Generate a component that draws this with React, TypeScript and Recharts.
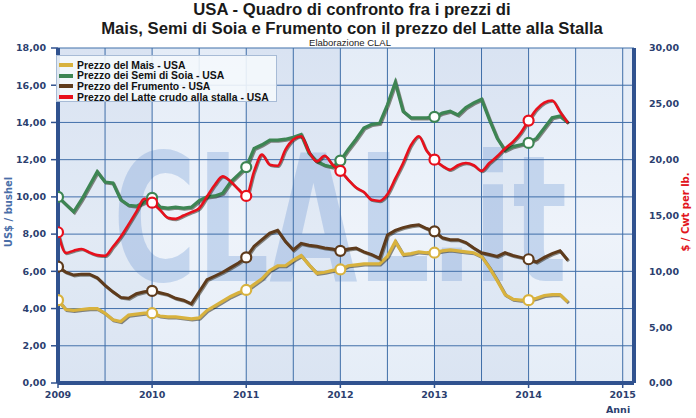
import React from 'react';
import { LineChart, Line, XAxis, YAxis, CartesianGrid, ReferenceLine, ReferenceArea } from 'recharts';

const startYear = 2009;
const yearTicks = [2009, 2010, 2011, 2012, 2013, 2014, 2015];
const halfYearLines = [2009.5, 2010, 2010.5, 2011, 2011.5, 2012, 2012.5, 2013, 2013.5, 2014, 2014.5, 2015];
const leftTicks = [0, 2, 4, 6, 8, 10, 12, 14, 16, 18];
const rightTicks = [0, 5, 10, 15, 20, 25, 30];
const bandYears = [2009, 2011, 2013];

// Monthly values, Jan 2009 - Jun 2014
const mais = [
  4.45, 3.95, 3.9, 3.95, 4.0, 4.0, 3.75, 3.4, 3.3, 3.65, 3.7, 3.75,
  3.75, 3.6, 3.55, 3.55, 3.5, 3.45, 3.5, 3.9, 4.15, 4.4, 4.65, 4.85,
  5.0, 5.3, 5.6, 6.05, 6.3, 6.3, 6.6, 6.85, 6.35, 5.9, 5.95, 6.05,
  6.1, 6.3, 6.35, 6.4, 6.4, 6.4, 6.8, 7.6, 6.9, 6.95, 7.05, 7.0,
  7.0, 7.1, 7.15, 7.1, 7.05, 7.0, 6.8, 6.2, 5.5, 4.75, 4.5, 4.45,
  4.45, 4.55, 4.7, 4.75, 4.75, 4.35,
];
const soia = [
  10.0, 9.6, 9.2, 9.85, 10.6, 11.35, 10.8, 10.75, 9.85, 9.55, 9.5, 9.7,
  9.95, 9.45, 9.4, 9.45, 9.4, 9.45, 9.8, 10.0, 10.05, 10.2, 10.8, 11.2,
  11.6, 12.6, 12.8, 13.05, 13.05, 13.1, 13.2, 13.35, 12.35, 11.9, 11.7, 11.6,
  11.95, 12.55, 13.1, 13.7, 13.9, 13.95, 14.95, 16.15, 14.6, 14.25, 14.25, 14.25,
  14.3, 14.5, 14.6, 14.4, 14.8, 15.05, 15.25, 14.15, 13.15, 12.5, 12.7, 12.8,
  12.9, 13.15, 13.7, 14.25, 14.35, 14.0,
];
const frumento = [
  6.25, 5.95, 5.8, 5.85, 5.85, 5.65, 5.25, 4.9, 4.6, 4.55, 4.8, 4.9,
  4.95, 4.85, 4.75, 4.55, 4.45, 4.25, 4.9, 5.55, 5.75, 5.95, 6.2, 6.45,
  6.75, 7.35, 7.7, 8.05, 8.2, 7.6, 7.15, 7.5, 7.4, 7.35, 7.25, 7.2,
  7.1, 7.2, 7.25, 7.05, 6.9, 6.7, 7.95, 8.2, 8.35, 8.45, 8.5, 8.3,
  8.15, 7.8, 7.7, 7.7, 7.55, 7.25, 7.0, 6.9, 6.8, 7.0, 6.85, 6.75,
  6.65, 6.5, 6.75, 6.95, 7.1, 6.6,
];
const latte = [
  13.5, 11.65, 11.85, 12.0, 11.7, 11.45, 11.4, 12.2, 13.1, 14.2, 15.35, 16.5,
  16.15, 15.5, 14.8, 14.7, 15.0, 15.3, 15.65, 16.7, 17.75, 18.5, 18.05, 17.35,
  16.75, 18.95, 20.45, 19.55, 19.45, 20.9, 21.8, 22.1, 20.7, 19.85, 20.35, 19.55,
  19.0, 18.2, 17.5, 17.1, 16.4, 16.3, 16.9, 18.3, 19.7, 21.3, 22.1, 20.8,
  20.0, 19.45, 19.1, 19.5, 19.7, 19.5, 19.0, 19.7, 20.3, 21.0, 21.6, 22.4,
  23.5, 24.5, 25.1, 25.3, 24.3, 23.3,
];

const seriesNames = [
  'Prezzo del Mais - USA',
  'Prezzo dei Semi di Soia - USA',
  'Prezzo del Frumento - USA',
  'Prezzo del Latte crudo alla stalla - USA',
];
const seriesKeys = ['mais', 'soia', 'frumento', 'latte'];
const seriesColors = ['#d8b23e', '#3d8553', '#5e3b1c', '#e8101c'];

const data = mais.map((v, i) => ({
  t: startYear + i / 12,
  mais: v,
  soia: soia[i],
  frumento: frumento[i],
  latte: latte[i],
}));

const AXIS = '#30528f';
const GRID = '#3f6ea8';
const TICK_COLOR = '#2c3f6f';
const tickStyle = { fill: TICK_COLOR, fontSize: 9.5, fontWeight: 'bold', fontFamily: '"DejaVu Sans", Verdana, sans-serif' };
const fmt = (v: number) => v.toFixed(2).replace('.', ',');

const makeDot = (color: string) => (props: any) => {
  const { cx, cy, index } = props;
  if (index % 12 !== 0 || cx == null || cy == null) return <g key={`d-${color}-${index}`} />;
  return (
    <circle key={`d-${color}-${index}`} cx={cx} cy={cy} r={5} fill="#ffffff" stroke={color} strokeWidth={2.2} />
  );
};

export default function App() {
  return (
    <div style={{ position: 'absolute', left: 0, top: 0, width: 696, height: 418, background: '#ffffff', overflow: 'hidden', fontFamily: '"Liberation Sans", Arial, sans-serif' }}>
      <style>{`.sh .recharts-line-curve{filter:drop-shadow(1.2px 1.4px 0.7px rgba(30,25,10,0.5));}`}</style>
      <div style={{ position: 'absolute', left: 58, top: 48, width: 576, height: 335, background: 'linear-gradient(180deg,#e4ecf7 0%,#eef3fa 55%,#e5edf7 100%)' }} />
      <svg style={{ position: 'absolute', left: 0, top: 0 }} width={696} height={418}>
        <text transform="translate(113,281) scale(1,1.55)" x={0} y={0} fontSize={114} fontWeight="bold" fontFamily='"DejaVu Sans", sans-serif' fill="#a3bee3" fillOpacity={0.55}>CLAL.it</text>
      </svg>
      <div style={{ position: 'absolute', left: 0, top: 0 }}>
        <LineChart width={696} height={418} data={data} margin={{ top: 48, right: 0, bottom: 0, left: 0 }}>
          {bandYears.map((y) => (
            <ReferenceArea key={`b${y}`} yAxisId="left" x1={y} x2={y + 1} y1={0} y2={18} fill="#6f93c8" fillOpacity={0.09} stroke="none" />
          ))}
          <CartesianGrid yAxisId="left" vertical={false} stroke={GRID} strokeWidth={1} />
          {halfYearLines.map((x) => (
            <ReferenceLine key={`v${x}`} yAxisId="left" x={x} stroke={GRID} strokeWidth={1} />
          ))}
          <XAxis
            dataKey="t"
            type="number"
            domain={[2009, 2015.12]}
            allowDataOverflow
            ticks={yearTicks}
            interval={0}
            height={35}
            axisLine={{ stroke: AXIS, strokeWidth: 4 }}
            tickLine={{ stroke: AXIS, strokeWidth: 1.5 }}
            tickSize={5}
            tickMargin={3}
            tick={tickStyle}
          />
          <YAxis
            yAxisId="left"
            domain={[0, 18]}
            ticks={leftTicks}
            interval={0}
            width={58}
            axisLine={{ stroke: AXIS, strokeWidth: 4 }}
            tickLine={{ stroke: AXIS, strokeWidth: 1.5 }}
            tickSize={7}
            tickMargin={5}
            tick={tickStyle}
            tickFormatter={fmt}
          />
          <YAxis
            yAxisId="right"
            orientation="right"
            domain={[0, 30]}
            ticks={rightTicks}
            interval={0}
            width={62}
            axisLine={{ stroke: AXIS, strokeWidth: 4 }}
            tickLine={false}
            tickMargin={9}
            tick={{ ...tickStyle, textAnchor: 'start' }}
            tickFormatter={fmt}
          />
          <Line className="sh" yAxisId="left" type="linear" dataKey="mais" stroke={seriesColors[0]} strokeWidth={3.2} dot={makeDot(seriesColors[0])} activeDot={false} isAnimationActive={false} />
          <Line className="sh" yAxisId="left" type="linear" dataKey="frumento" stroke={seriesColors[2]} strokeWidth={3} dot={makeDot(seriesColors[2])} activeDot={false} isAnimationActive={false} />
          <Line className="sh" yAxisId="left" type="linear" dataKey="soia" stroke={seriesColors[1]} strokeWidth={3.2} dot={makeDot(seriesColors[1])} activeDot={false} isAnimationActive={false} />
          <Line className="sh" yAxisId="right" type="monotone" dataKey="latte" stroke={seriesColors[3]} strokeWidth={2.6} dot={makeDot(seriesColors[3])} activeDot={false} isAnimationActive={false} />
        </LineChart>
      </div>

      <div style={{ position: 'absolute', left: 0, width: 704, top: 1, textAlign: 'center', fontSize: 16.7, fontWeight: 'bold', color: '#1a1a1a', lineHeight: '17px' }}>
        USA - Quadro di confronto fra i prezzi di
      </div>
      <div style={{ position: 'absolute', left: 0, width: 704, top: 20, textAlign: 'center', fontSize: 16.7, fontWeight: 'bold', color: '#1a1a1a', lineHeight: '17px' }}>
        Mais, Semi di Soia e Frumento con il prezzo del Latte alla Stalla
      </div>
      <div style={{ position: 'absolute', left: 0, width: 700, top: 38, textAlign: 'center', fontSize: 9.5, color: '#222', lineHeight: '10px' }}>
        Elaborazione CLAL
      </div>

      <div style={{ position: 'absolute', left: -41, top: 206, width: 100, textAlign: 'center', transform: 'rotate(-90deg)', fontFamily: '"DejaVu Sans", Verdana, sans-serif', fontSize: 10, fontWeight: 'bold', color: '#4a6ea8', lineHeight: '12px' }}>
        US$ / bushel
      </div>
      <div style={{ position: 'absolute', left: 636, top: 206, width: 100, textAlign: 'center', transform: 'rotate(-90deg)', fontFamily: '"DejaVu Sans", Verdana, sans-serif', fontSize: 10, fontWeight: 'bold', color: '#e2141c', lineHeight: '12px' }}>
        $ / Cwt per lb.
      </div>
      <div style={{ position: 'absolute', left: 606, top: 404, fontFamily: '"DejaVu Sans", Verdana, sans-serif', fontSize: 9.5, fontWeight: 'bold', color: TICK_COLOR }}>
        Anni
      </div>

      <div style={{ position: 'absolute', left: 56, top: 55, width: 221, height: 47, boxSizing: 'border-box', border: '1px solid #a7bbd6', background: 'rgba(244,248,252,0.9)', paddingTop: 4 }}>
        {seriesNames.map((name, i) => (
          <div key={seriesKeys[i]} style={{ display: 'flex', alignItems: 'center', height: 10.6, fontSize: 10.4, fontWeight: 'bold', color: '#111', whiteSpace: 'nowrap' }}>
            <span style={{ display: 'inline-block', width: 14, height: 4, background: seriesColors[i], marginLeft: 2, marginRight: 4 }} />
            {name}
          </div>
        ))}
      </div>
    </div>
  );
}
